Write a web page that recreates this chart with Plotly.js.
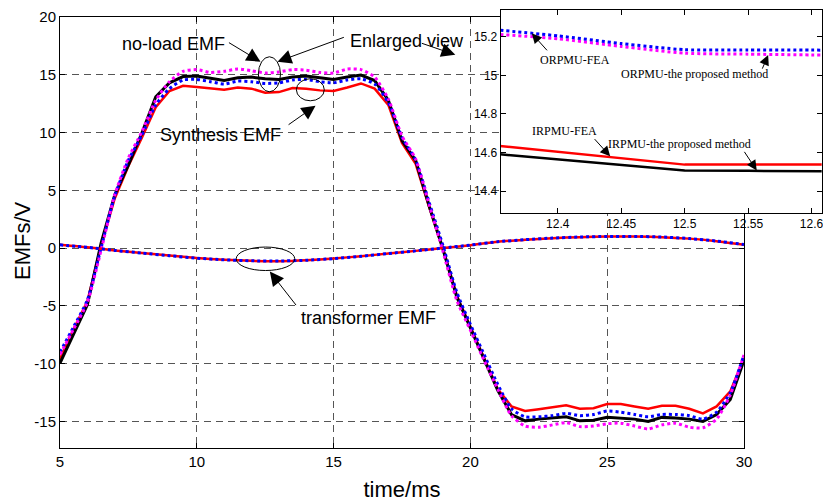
<!DOCTYPE html>
<html><head><meta charset="utf-8">
<script src="https://cdn.plot.ly/plotly-3.0.1.min.js"></script>
<style>html,body{margin:0;padding:0;background:#fff;}#chart{width:823px;height:503px;}</style>
</head><body><div id="chart"></div>
<script>
// ---------------- main plot data ----------------
const timeMs = [5,5.5,6,6.5,7,7.5,8,8.5,9,9.5,10,10.5,11,11.5,12,12.5,13,13.5,14,14.5,15,15.5,16,16.5,17,17.5,18,18.5,19,19.5,20,20.5,21,21.5,22,22.5,23,23.5,24,24.5,25,25.5,26,26.5,27,27.5,28,28.5,29,29.5,30];
const irpmuProposed = [-9.95,-7.4,-4.9,0.4,4.6,7.2,10.0,13.1,14.3,14.85,14.9,14.7,14.5,14.75,14.8,14.65,14.6,14.8,14.9,14.75,14.6,14.8,14.97,14.5,12.8,9.3,7.6,3.6,-0.1,-4.2,-6.9,-9.5,-12.3,-14.4,-14.95,-14.8,-14.7,-14.6,-14.95,-14.9,-14.65,-14.7,-14.8,-15.0,-14.65,-14.7,-14.8,-15.0,-14.4,-13.1,-9.7];
const irpmuFEA = [-9.6,-7.0,-4.6,0.2,4.3,7.1,9.6,12.2,13.6,14.05,13.95,13.85,13.7,13.9,13.8,13.45,13.5,13.85,13.8,13.65,13.6,13.9,14.25,13.8,12.4,9.1,7.3,3.5,-0.1,-4.1,-6.8,-9.5,-12.2,-13.7,-14.1,-13.95,-13.75,-13.6,-13.9,-13.85,-13.5,-13.5,-13.7,-13.9,-13.65,-13.65,-13.9,-14.3,-13.7,-12.4,-9.5];
const orpmuFEA = [-9.0,-6.8,-4.5,0.0,4.5,7.6,9.8,12.4,13.8,14.55,14.6,14.4,14.2,14.45,14.4,14.25,14.3,14.55,14.6,14.4,14.3,14.55,14.65,14.2,12.6,9.6,7.6,3.9,0.2,-3.8,-6.6,-9.2,-11.8,-13.9,-14.6,-14.6,-14.5,-14.3,-14.5,-14.4,-14.1,-14.2,-14.4,-14.6,-14.4,-14.4,-14.5,-14.8,-14.2,-12.5,-9.25];
const orpmuProposed = [-9.2,-7.0,-4.7,-0.2,4.6,7.8,10.1,12.8,14.4,15.3,15.45,15.2,15.3,15.5,15.35,15.15,15.25,15.45,15.4,15.2,15.15,15.5,15.45,14.8,12.9,9.7,7.7,3.7,-0.3,-4.5,-7.1,-9.7,-12.2,-14.5,-15.4,-15.5,-15.3,-15.1,-15.45,-15.4,-15.2,-15.15,-15.4,-15.65,-15.3,-15.15,-15.5,-15.55,-14.8,-12.7,-9.25];

const transTime = [5,6,7,8,9,10,11,12,13,14,15,16,17,18,19,20,21,22,23,24,25,26,27,28,29,30];
const transFEA = [0.30,0.08,-0.20,-0.42,-0.65,-0.86,-1.00,-1.10,-1.13,-1.05,-0.90,-0.70,-0.47,-0.24,0.00,0.25,0.55,0.72,0.86,0.95,1.00,1.00,0.95,0.82,0.60,0.30];
const transProposed = [0.28,0.07,-0.20,-0.43,-0.66,-0.87,-1.01,-1.10,-1.12,-1.05,-0.91,-0.71,-0.47,-0.24,0.01,0.26,0.55,0.73,0.87,0.96,1.01,1.01,0.96,0.83,0.61,0.31];

const xTicks = [5,10,15,20,25,30];
const yTicks = [-15,-10,-5,0,5,10,15,20];
const yTickText = ['-15','-10','-5','0','5','10','15','20'];

// ---------------- inset (enlarged view) data ----------------
const insetTime = [12.35,12.4,12.45,12.5,12.55,12.6,12.65];
const insetORPMUFEA = [15.237,15.205,15.165,15.133,15.132,15.131,15.130];
const insetORPMUProposed = [15.214,15.190,15.150,15.115,15.110,15.106,15.104];
const insetIRPMUFEA = [14.637,14.604,14.570,14.537,14.537,14.537,14.537];
const insetIRPMUProposed = [14.593,14.565,14.536,14.507,14.505,14.502,14.500];
const insetXTicks = [12.4,12.45,12.5,12.55,12.6];
const insetXTickText = ['12.4','12.45','12.5','12.55','12.6'];
const insetYTicks = [14.4,14.6,14.8,15,15.2];
const insetYTickText = ['14.4','14.6','14.8','15','15.2'];

const RED = '#ff0000', BLACK = '#000000', BLUE = '#0000ff', MAG = '#ff00ff';

function tr(x, y, color, width, dash, xa, ya, shape) {
  return {x: x, y: y, type: 'scatter', mode: 'lines', xaxis: xa, yaxis: ya,
    line: {color: color, width: width, dash: dash, shape: shape || 'linear', smoothing: 0.6},
    hoverinfo: 'skip'};
}

const traces = [
  tr(timeMs, irpmuFEA, RED, 2.5, 'solid', 'x', 'y'),
  tr(timeMs, irpmuProposed, BLACK, 3, 'solid', 'x', 'y'),
  tr(timeMs, orpmuFEA, BLUE, 3, 'dot', 'x', 'y', 'spline'),
  tr(timeMs, orpmuProposed, MAG, 3, 'dot', 'x', 'y', 'spline'),
  tr(transTime, transFEA, RED, 2.5, 'solid', 'x', 'y', 'spline'),
  tr(transTime, transProposed, BLUE, 3, 'dot', 'x', 'y', 'spline'),
  tr(insetTime, insetIRPMUFEA, RED, 2.5, 'solid', 'x2', 'y2'),
  tr(insetTime, insetIRPMUProposed, BLACK, 2.5, 'solid', 'x2', 'y2'),
  tr(insetTime, insetORPMUProposed, MAG, 3, 'dot', 'x2', 'y2', 'spline'),
  tr(insetTime, insetORPMUFEA, BLUE, 3, 'dot', 'x2', 'y2', 'spline')
];

const SANS = 'Liberation Sans, Arial, sans-serif';
const SERIF = 'Liberation Serif, Times New Roman, serif';

function txt(text, x, y, xref, yref, size, family, angle) {
  return {text: text, x: x, y: y, xref: xref, yref: yref, showarrow: false, textangle: angle || 0,
    font: {size: size, family: family, color: '#000'}, xanchor: 'center', yanchor: 'middle'};
}
function arr(hx, hy, tx, ty, xref, yref, size) {
  return {text: '', x: hx, y: hy, ax: tx, ay: ty, xref: xref, yref: yref, axref: xref, ayref: yref,
    showarrow: true, arrowhead: 2, arrowsize: size, arrowwidth: 1, arrowcolor: '#000', standoff: 0, startstandoff: 0};
}

const annotations = [
  txt('EMFs/V', -0.0486, 0.4749, 'paper', 'paper', 22, SANS, -90),
  txt('no-load EMF', 9.15, 17.69, 'x', 'y', 18, SANS),
  txt('Enlarged view', 17.70, 17.95, 'x', 'y', 18, SANS),
  txt('Synthesis EMF', 10.86, 9.81, 'x', 'y', 18, SANS),
  txt('transformer EMF', 16.27, -6.03, 'x', 'y', 18, SANS),
  arr(12.33, 16.13, 11.12, 17.86, 'x', 'y', 2.8),
  arr(12.95, 16.13, 15.43, 18.29, 'x', 'y', 2.8),
  arr(19.45, 16.73, 18.17, 17.77, 'x', 'y', 2.8),
  arr(14.34, 12.32, 13.30, 10.59, 'x', 'y', 2.8),
  arr(12.67, -2.03, 13.67, -5.06, 'x', 'y', 2.8),
  txt('ORPMU-FEA', 12.4136, 15.079, 'x2', 'y2', 12, SERIF),
  txt('ORPMU-the proposed method', 12.5079, 15.006, 'x2', 'y2', 12, SERIF),
  txt('IRPMU-FEA', 12.405, 14.712, 'x2', 'y2', 12, SERIF),
  txt('IRPMU-the proposed method', 12.4963, 14.646, 'x2', 'y2', 12, SERIF),
  arr(12.3795, 15.218, 12.3926, 15.122, 'x2', 'y2', 2),
  arr(12.5658, 15.105, 12.5607, 15.027, 'x2', 'y2', 2),
  arr(12.4413, 14.580, 12.428, 14.677, 'x2', 'y2', 2),
  arr(12.5568, 14.507, 12.5463, 14.611, 'x2', 'y2', 2)
];

function ell(x0, x1, y0, y1) {
  return {type: 'circle', xref: 'x', yref: 'y', x0: x0, x1: x1, y0: y0, y1: y1,
    line: {color: '#000', width: 1}, layer: 'above'};
}
const shapes = [
  ell(12.25, 13.06, 13.53, 16.56),
  ell(13.64, 14.66, 12.75, 14.66),
  ell(11.44, 13.58, -1.94, 0.09)
];

const gridStyle = {showgrid: true, gridcolor: '#555555', gridwidth: 1, griddash: '7px,5px'};

const layout = {
  width: 823, height: 503,
  margin: {l: 60, r: 1, t: 10, b: 55, pad: 0},
  paper_bgcolor: '#ffffff', plot_bgcolor: '#ffffff',
  showlegend: false,
  font: {family: SANS, color: '#000', size: 15},
  xaxis: Object.assign({domain: [0, 0.8976], range: [5, 30], tickvals: xTicks, ticks: 'inside', ticklen: 5,
    tickcolor: '#000', showline: true, linecolor: '#000', linewidth: 1, mirror: 'ticks', zeroline: false,
    tickfont: {size: 15, family: SANS}, title: {text: 'time/ms', font: {size: 22, family: SANS}, standoff: 12},
    automargin: false, anchor: 'y'}, gridStyle),
  yaxis: Object.assign({domain: [0, 0.984], range: [-17.3, 20], tickvals: yTicks, ticktext: yTickText, ticks: 'inside', ticklen: 5,
    tickcolor: '#000', showline: true, linecolor: '#000', linewidth: 1, mirror: 'ticks', zeroline: false,
    tickfont: {size: 15, family: SANS}, automargin: false, anchor: 'x'}, gridStyle),
  xaxis2: {domain: [0.5783, 0.9996], range: [12.355, 12.608], anchor: 'y2', tickvals: insetXTicks, ticktext: insetXTickText,
    ticks: 'inside', ticklen: 5, tickcolor: '#000', showline: true, linecolor: '#000', linewidth: 1, mirror: 'ticks',
    showgrid: false, zeroline: false, tickfont: {size: 12, family: SANS}, automargin: false, ticklabeloverflow: 'allow'},
  yaxis2: {domain: [0.5365, 1], range: [14.286, 15.339], anchor: 'x2', tickvals: insetYTicks, ticktext: insetYTickText,
    ticks: 'inside', ticklen: 5, tickcolor: '#000', showline: true, linecolor: '#000', linewidth: 1, mirror: 'ticks',
    showgrid: false, zeroline: false, tickfont: {size: 12, family: SANS}, automargin: false, ticklabeloverflow: 'allow'},
  annotations: annotations,
  shapes: shapes
};

Plotly.newPlot('chart', traces, layout, {staticPlot: true, displayModeBar: false});
</script>
</body></html>
